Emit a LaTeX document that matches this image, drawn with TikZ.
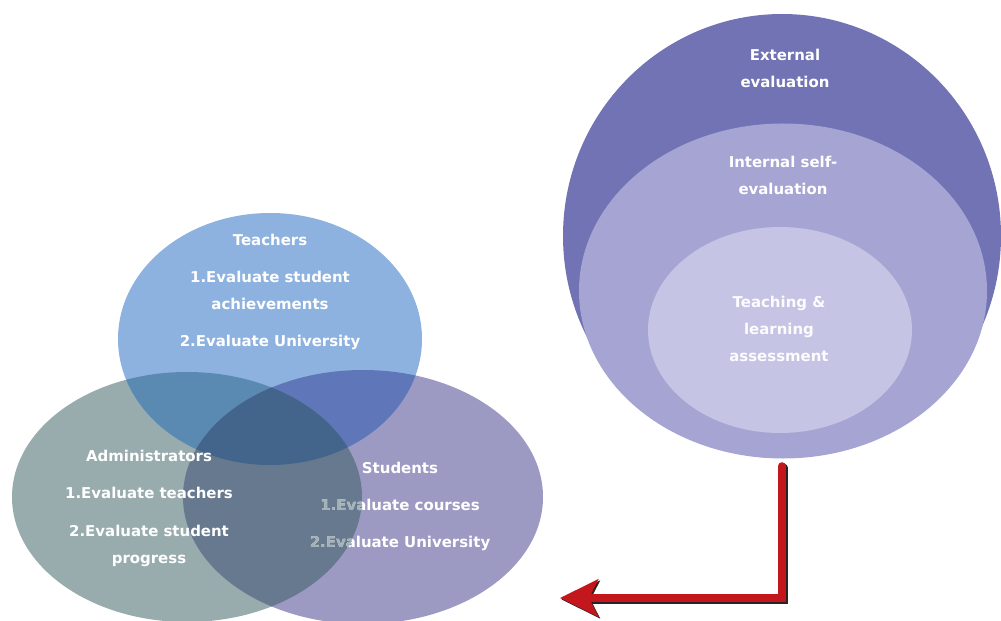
\documentclass[tikz,border=0pt]{standalone}
\usepackage{fontspec}
\setmainfont{DejaVu Sans}
\usetikzlibrary{shapes.geometric,arrows.meta,positioning}

\definecolor{teachc}{HTML}{8DB2DF}
\definecolor{adminc}{HTML}{98ACAE}
\definecolor{studc}{HTML}{9C9AC3}
\definecolor{tac}{HTML}{5A8AB1}
\definecolor{tsc}{HTML}{5F76B9}
\definecolor{asc}{HTML}{67798F}
\definecolor{tasc}{HTML}{43658B}
\definecolor{fadec}{HTML}{A4B2B5}
\definecolor{outerc}{HTML}{7173B4}
\definecolor{midc}{HTML}{A5A4D2}
\definecolor{innerc}{HTML}{C5C4E4}
\definecolor{arrowc}{HTML}{C4171D}

% the three circles of the venn part
\newcommand{\teachshape}{(270,339) ellipse [x radius=152bp, y radius=126bp]}
\newcommand{\adminshape}{(187,497) ellipse [x radius=175bp, y radius=125bp]}
\newcommand{\studshape}{(363,497) ellipse [x radius=180bp, y radius=127bp]}

\begin{document}
\begin{tikzpicture}[x=1bp,y=-1bp]
      \tikzset{
        lbl/.style={text=white,align=center,inner sep=0pt,anchor=north,
          font=\bfseries\fontsize{15}{27}\selectfont},
        ring/.style={ellipse,inner sep=0pt,draw=none},
        redline/.style={line width=8bp,arrowc,line cap=round,
          -{Stealth[length=38bp,width=37bp,inset=9bp]}}
      }
      \useasboundingbox (0,0) rectangle (1001,621);
      \clip (0,0) rectangle (1001,621);

      % venn
      \fill[adminc] \adminshape;
      \fill[studc] \studshape;
      \fill[teachc] \teachshape;
      \begin{scope}
        \clip \teachshape;
        \fill[tac] \adminshape;
        \fill[tsc] \studshape;
      \end{scope}
      \begin{scope}
        \clip \adminshape;
        \fill[asc] \studshape;
      \end{scope}
      \begin{scope}
        \clip \teachshape;
        \clip \adminshape;
        \fill[tasc] \studshape;
      \end{scope}

      \node[lbl] (teachers) at (270,234) {Teachers\\[10bp]1.Evaluate student\\achievements\\[10bp]2.Evaluate University};
      \node[lbl] (students) at (400,462) {Students\\[10bp]1.Evaluate courses\\[10bp]2.Evaluate University};
      \begin{scope}
        \clip \adminshape;
        \node[lbl,text=fadec] (studentsfade) at (400,462) {Students\\[10bp]1.Evaluate courses\\[10bp]2.Evaluate University};
      \end{scope}
      \node[lbl] (admins) at (149,450) {Administrators\\[10bp]1.Evaluate teachers\\[11bp]2.Evaluate student\\progress};

      % nested evaluation levels
      \node[ring,fill=outerc,minimum width=438bp,minimum height=444bp] (outer) at (782,236) {};
      \node[ring,fill=midc,minimum width=408bp,minimum height=335bp] (middle) at (783,291) {};
      \node[ring,fill=innerc,minimum width=264bp,minimum height=206bp] (inner) at (780,330) {};

      \node[lbl] (external) at (785,49) {External\\evaluation};
      \node[lbl] (internal) at (783,156) {Internal self-\\evaluation};
      \node[lbl,text=white!95!innerc] (teaching) at (779,296) {Teaching \&\\learning\\assessment};

      % arrow back to the venn
      \coordinate (arrowend) at (560,598);
      \draw[redline,black!85] ([shift={(1.5,9.5)}]outer.south) |- ([shift={(1.5,1.5)}]arrowend);
      \draw[redline] ([shift={(0,8)}]outer.south) |- (arrowend);
\end{tikzpicture}
\end{document}
